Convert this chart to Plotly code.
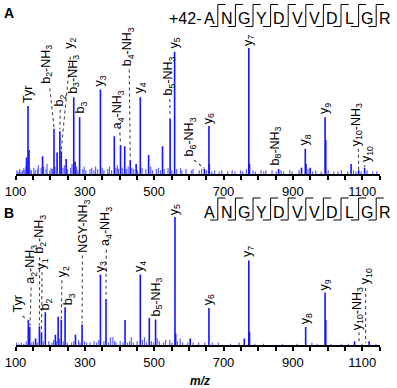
import plotly.graph_objects as go

# ---------------- data ----------------
# Panel A (acetylated peptide): fragment / prominent peaks, m/z and relative intensity (%)
a_mz = [132, 136, 139, 178, 211, 220, 228, 232, 246, 268, 272, 285, 345, 385, 403, 415, 431,
        448, 460, 484, 524, 546, 559, 645, 658, 659, 773, 775, 859, 925, 936, 938, 950, 993,
        995, 1068, 1090, 1107]
a_int = [13, 54, 19, 14, 36, 17, 34, 18, 12, 61, 10, 45, 67, 30, 23, 22, 11,
         8, 61, 15, 22, 44, 97, 4, 38, 8, 100, 8, 4, 5, 20, 8, 5, 45,
         27, 8, 3, 5]
# Panel A: small background peaks
a_noise_mz = [104, 108, 112, 116, 120, 124, 127, 130, 142, 146, 153, 157, 163, 166, 174, 181,
              188, 191, 199, 203, 207, 214, 237, 241, 250, 259, 263, 276, 280, 294, 298, 303,
              315, 320, 326, 331, 337, 350, 355, 366, 371, 377, 390, 394, 397, 408, 420, 425,
              436, 441, 452, 465, 476, 490, 495, 506, 512, 518, 529, 540, 551, 565, 576, 580,
              592, 607, 612, 630, 637, 651, 666, 674, 688, 695, 712, 725, 733, 749, 755, 766,
              785, 792, 808, 816, 822, 840, 852, 866, 873, 891, 898, 918, 944, 957, 966, 982,
              1002, 1018, 1030, 1040, 1058, 1075, 1082, 1097, 1114, 1130, 1142]
a_noise_int = [3, 2, 4, 2, 3, 5, 3, 6, 4, 3, 5, 3, 4, 7, 5, 6,
               4, 8, 3, 5, 4, 6, 5, 7, 4, 5, 8, 6, 3, 4, 6, 3,
               4, 5, 3, 6, 4, 5, 3, 4, 6, 3, 5, 7, 4, 5, 4, 6,
               5, 4, 3, 5, 4, 6, 3, 4, 5, 3, 4, 5, 3, 4, 5, 3,
               4, 3, 4, 3, 4, 3, 2, 3, 2, 3, 2, 3, 2, 3, 2, 4,
               3, 2, 3, 2, 3, 3, 2, 3, 2, 3, 2, 3, 4, 2, 3, 2,
               3, 2, 2, 3, 2, 3, 2, 2, 3, 2, 2]

# Panel B (unmodified peptide)
b_mz = [137, 141, 158, 169, 175, 186, 215, 223, 232, 243, 273, 292, 345, 361, 416, 460, 486,
        504, 560, 562, 604, 658, 760, 773, 775, 937, 993, 995, 1078, 1120]
b_int = [19.5, 14, 5, 14.6, 10, 25.5, 8, 22, 19.5, 29.4, 8, 16, 55, 36, 19.5, 55, 21,
         20, 100, 9, 5, 29, 5, 66, 10, 14, 41, 19.5, 3, 3]
b_noise_mz = [103, 110, 117, 124, 131, 147, 152, 163, 180, 196, 205, 210, 219, 227, 238, 249,
              262, 268, 282, 286, 299, 305, 315, 327, 334, 340, 355, 368, 374, 381, 386, 390,
              402, 410, 423, 429, 434, 440, 451, 466, 472, 478, 492, 498, 509, 515, 527, 533,
              545, 551, 567, 575, 582, 597, 612, 628, 646, 668, 685, 720, 745, 790, 815, 870,
              912, 955, 970, 1010, 1040, 1060, 1100, 1140]
b_noise_int = [2, 1, 2, 1, 3, 2, 3, 2, 3, 3, 2, 4, 3, 5, 3, 2,
               2, 3, 4, 2, 3, 2, 2, 3, 2, 4, 3, 2, 6, 6, 3, 2,
               3, 2, 2, 3, 6, 2, 3, 4, 6, 2, 3, 2, 5, 3, 2, 4,
               4, 2, 3, 5, 2, 2, 2, 2, 2, 2, 2, 1, 2, 1, 1, 1,
               1, 2, 1, 1, 1, 1, 1, 1]

# Peak annotations
a_labels = ["Tyr", "b<sub>2</sub>-NH<sub>3</sub>", "b<sub>2</sub>", "y<sub>2</sub>",
            "b<sub>3</sub>-NH<sub>3</sub>", "b<sub>3</sub>", "y<sub>3</sub>",
            "a<sub>4</sub>-NH<sub>3</sub>", "b<sub>4</sub>-NH<sub>3</sub>", "y<sub>4</sub>",
            "b<sub>5</sub>-NH<sub>3</sub>", "y<sub>5</sub>", "b<sub>6</sub>-NH<sub>3</sub>",
            "y<sub>6</sub>", "y<sub>7</sub>", "b<sub>8</sub>-NH<sub>3</sub>", "y<sub>8</sub>",
            "y<sub>9</sub>", "y<sub>10</sub>-NH<sub>3</sub>", "y<sub>10</sub>"]
b_labels = ["Tyr", "a<sub>2</sub>-NH<sub>3</sub>", "b<sub>2</sub>-NH<sub>3</sub>", "y<sub>1</sub>",
            "b<sub>2</sub>", "y<sub>2</sub>", "b<sub>3</sub>", "NGY-NH<sub>3</sub>", "y<sub>3</sub>",
            "a<sub>4</sub>-NH<sub>3</sub>", "y<sub>4</sub>", "b<sub>5</sub>-NH<sub>3</sub>",
            "y<sub>5</sub>", "y<sub>6</sub>", "y<sub>7</sub>", "y<sub>8</sub>", "y<sub>9</sub>",
            "y<sub>10</sub>-NH<sub>3</sub>", "y<sub>10</sub>"]

tick_vals = [100, 300, 500, 700, 900, 1100]
tick_text = ["100", "300", "500", "700", "900", "1100"]
sequence = ["A", "N", "G", "Y", "D", "V", "V", "D", "L", "G", "R"]
mod_prefix = "+42-"
x_title = "m/z"

# ---------------- layout / placement ----------------
W, H = 397, 388
FONT = "Arial, Liberation Sans, sans-serif"
MAIN_C = "rgb(20,20,255)"
NOISE_C = "rgb(95,95,255)"
LAB_SIZE = 12.5

# label anchors (m/z, bottom intensity) in data units
a_lab_pos = [(136, 56), (190, 71), (229, 53), (257, 99), (268, 63), (288, 47), (345, 68.5),
             (398, 35), (427, 85), (460, 63), (544, 61.5), (559, 99), (606, 13.5), (658, 39),
             (773, 101), (850, 6), (936, 21.7), (993, 46.5), (1085, 21.7), (1114, 8.7)]
a_leaders = [(199, 68, 211, 37), (229, 51, 228, 35.5), (258, 93, 232, 19.5),
             (401, 33, 403, 24), (428, 83, 431, 12), (545, 59.5, 546, 45),
             (615, 11, 645, 4.5), (1089, 20, 1090, 1), (1108, 7, 1107, 5.5)]
b_lab_pos = [(107, 25), (146, 47), (172, 70.5), (179, 58.6), (189, 26.5), (238, 52),
             (253, 30), (297, 71.6), (345, 56), (361, 77), (460, 56), (507, 21.5),
             (560, 101), (658, 30.7), (772, 68), (937, 15.6), (992, 42), (1088, 10.4), (1112, 47)]
b_leaders = [(120, 22.7, 135, 19.8), (145, 45, 142, 15), (169.5, 68.5, 169, 15.5),
             (176.5, 57, 175, 11), (234, 50.5, 232, 20), (293, 70, 292, 17),
             (362, 74.5, 361, 37), (1091, 10, 1091, 1.5), (1110, 44.5, 1110, 1.5)]

X0, X1 = 15.5, 379.5
A_BOT, A_TOP, A_SCALE = 174, 10, 1.26   # px per %
B_BOT, B_TOP, B_SCALE = 345, 190, 1.28


def px(x):
    return x / W


def py(y):
    return 1 - y / H


def sticks(mz, inten):
    xs, ys = [], []
    for m, v in zip(mz, inten):
        xs += [m, m, None]
        ys += [0, v, None]
    return xs, ys


def leader_xy(leaders):
    xs, ys = [], []
    for m0, i0, m1, i1 in leaders:
        xs += [m0, m1, None]
        ys += [i0, i1, None]
    return xs, ys


fig = go.Figure()
for (mz, it, nmz, nit, ld, xa, ya) in [
        (a_mz, a_int, a_noise_mz, a_noise_int, a_leaders, "x", "y"),
        (b_mz, b_int, b_noise_mz, b_noise_int, b_leaders, "x2", "y2")]:
    nx, ny = sticks(nmz, nit)
    fig.add_trace(go.Scatter(x=nx, y=ny, mode="lines", xaxis=xa, yaxis=ya,
                             line=dict(color=NOISE_C, width=1.2), hoverinfo="skip",
                             showlegend=False))
    sx, sy = sticks(mz, it)
    fig.add_trace(go.Scatter(x=sx, y=sy, mode="lines", xaxis=xa, yaxis=ya,
                             line=dict(color=MAIN_C, width=1.6), hoverinfo="skip",
                             showlegend=False))
    lx, ly = leader_xy(ld)
    fig.add_trace(go.Scatter(x=lx, y=ly, mode="lines", xaxis=xa, yaxis=ya,
                             line=dict(color="#444444", width=1.1, dash="dot"),
                             hoverinfo="skip", showlegend=False))

annotations = []
for labels, pos, xr, yr in [(a_labels, a_lab_pos, "x", "y"), (b_labels, b_lab_pos, "x2", "y2")]:
    for t, (m, v) in zip(labels, pos):
        annotations.append(dict(x=m, y=v, xref=xr, yref=yr, text=t, showarrow=False,
                                textangle=-90, xanchor="center", yanchor="bottom",
                                font=dict(family=FONT, size=LAB_SIZE, color="black"),
                                borderpad=0))

# panel letters
annotations.append(dict(x=px(2), y=py(13), xref="paper", yref="paper", text="<b>A</b>",
                        showarrow=False, xanchor="left", yanchor="middle",
                        font=dict(family=FONT, size=14, color="black")))
annotations.append(dict(x=px(2), y=py(212.5), xref="paper", yref="paper", text="<b>B</b>",
                        showarrow=False, xanchor="left", yanchor="middle",
                        font=dict(family=FONT, size=14, color="black")))
# x title
annotations.append(dict(x=px(200), y=py(381), xref="paper", yref="paper",
                        text="<b><i>" + x_title + "</i></b>", showarrow=False,
                        xanchor="center", yanchor="middle",
                        font=dict(family=FONT, size=12, color="black")))

# sequences with fragmentation markers
SEQ_X0, SEQ_PITCH, HOOK = 209.0, 17.6, 7.6
shapes = []
for (cy, ytop, ybot, prefix) in [(18.5, 4.5, 26.5, mod_prefix), (212.5, 198, 220, "")]:
    if prefix:
        annotations.append(dict(x=px(SEQ_X0 - 5.5), y=py(cy), xref="paper", yref="paper",
                                text=prefix, showarrow=False, xanchor="right",
                                yanchor="middle",
                                font=dict(family=FONT, size=16, color="black")))
    for i, aa in enumerate(sequence):
        annotations.append(dict(x=px(SEQ_X0 + i * SEQ_PITCH), y=py(cy), xref="paper",
                                yref="paper", text=aa, showarrow=False, xanchor="center",
                                yanchor="middle",
                                font=dict(family=FONT, size=16, color="black")))
    for i in range(len(sequence) - 1):
        xm = SEQ_X0 + (i + 0.5) * SEQ_PITCH
        path = "M {},{} L {},{} L {},{} L {},{}".format(
            px(xm - HOOK), py(ybot), px(xm), py(ybot), px(xm), py(ytop), px(xm + HOOK), py(ytop))
        shapes.append(dict(type="path", path=path, xref="paper", yref="paper",
                           line=dict(color="black", width=1)))

xaxis_common = dict(range=[100, 1150], domain=[px(X0), px(X1)], showline=True,
                    linecolor="black", linewidth=1.8, ticks="outside", ticklen=4,
                    tickwidth=1.5, tickcolor="black", tickvals=tick_vals, ticktext=tick_text,
                    tickfont=dict(family=FONT, size=13, color="black"), showgrid=False,
                    zeroline=False, fixedrange=True, automargin=False,
                    minor=dict(dtick=50, tick0=100, ticks="outside", ticklen=4,
                               tickwidth=1.5, tickcolor="black", showgrid=False))
yaxis_common = dict(showline=False, showticklabels=False, ticks="", showgrid=False,
                    zeroline=False, fixedrange=True, automargin=False)

fig.update_layout(
    width=W, height=H, margin=dict(l=0, r=0, t=0, b=0, autoexpand=False),
    paper_bgcolor="white", plot_bgcolor="rgba(0,0,0,0)",
    xaxis=dict(xaxis_common, anchor="y"),
    yaxis=dict(yaxis_common, range=[0, (A_BOT - A_TOP) / A_SCALE],
               domain=[py(A_BOT), py(A_TOP)], anchor="x"),
    xaxis2=dict(xaxis_common, anchor="y2"),
    yaxis2=dict(yaxis_common, range=[0, (B_BOT - B_TOP) / B_SCALE],
                domain=[py(B_BOT), py(B_TOP)], anchor="x2"),
    annotations=annotations, shapes=shapes, showlegend=False,
)

fig.write_html("out.html", config={"displayModeBar": False},
               post_script="document.body.style.margin='0px';document.body.style.padding='0px';")
